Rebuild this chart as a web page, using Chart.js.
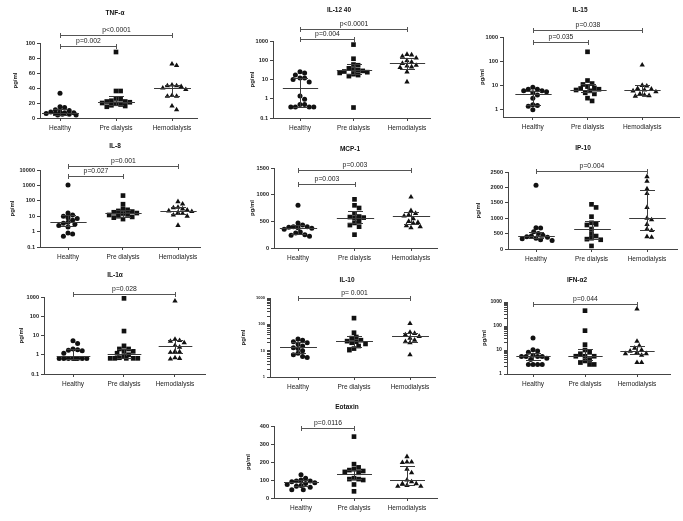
<!DOCTYPE html>
<html><head><meta charset="utf-8">
<script src="https://cdn.jsdelivr.net/npm/chart.js@4/dist/chart.umd.min.js"></script>
<style>
html,body{margin:0;padding:0;background:#fff;width:683px;height:521px;overflow:hidden}
canvas{position:absolute;left:0;top:0}
</style></head><body>
<div id="wrap"></div>
<script>
const groups = ['Healthy', 'Pre dialysis', 'Hemodialysis'];

// TNF-alpha
const tnfHealthy = [33, 15, 14, 11, 10, 8, 8, 7, 7, 6, 6, 5, 5, 4, 4];
const tnfPre = [88, 36, 36, 26, 25, 23, 22, 22, 21, 20, 19, 18, 17, 16, 15];
const tnfHemo = [72, 70, 44, 43, 43, 42, 40, 38, 30, 29, 29, 16, 11];
const tnfMedian = [6.7, 21.5, 40], tnfQ1 = [4.5, 17, 29], tnfQ3 = [12.5, 29, 44.5];
const tnfPairs = [[0, 1, 'p=0.002'], [0, 2, 'p<0.0001']];
const tnfTicks = [0, 20, 40, 60, 80, 100];

// IL-12 40
const il12Healthy = [25, 22, 17, 12, 12, 10, 7.5, 1.4, 0.95, 0.5, 0.5, 0.37, 0.37, 0.37, 0.37];
const il12Pre = [650, 120, 60, 55, 38, 33, 30, 28, 26, 24, 22, 19, 17, 15, 0.35];
const il12Hemo = [200, 190, 160, 130, 95, 80, 68, 55, 50, 45, 42, 25, 7.5];
const il12Median = [3.8, 29.5, 68], il12Q1 = [0.37, 19, 37], il12Q3 = [12, 61, 125];
const il12Pairs = [[0, 1, 'p=0.004'], [0, 2, 'p<0.0001']];
const il12Ticks = [0.1, 1, 10, 100, 1000];

// IL-15
const il15Healthy = [8.5, 7, 7, 6, 6, 5.5, 5, 4, 3, 1.6, 1.5, 1.4, 1.0];
const il15Pre = [245, 16, 12, 11, 9, 8, 7.5, 7, 6.5, 6, 5, 4.5, 3, 2.3];
const il15Hemo = [70, 10, 9.5, 7.5, 7, 6.5, 6, 5.5, 4.5, 4, 3.8, 3.6];
const il15Median = [4.6, 6.8, 6.8], il15Q1 = [1.5, 5.2, 4], il15Q3 = [6, 11.4, 10.6];
const il15Pairs = [[0, 1, 'p=0.035'], [0, 2, 'p=0.038']];
const il15Ticks = [1, 10, 100, 1000];

// IL-8
const il8Healthy = [1070, 16, 12, 10, 8, 7, 5.5, 4, 3.5, 3, 2.5, 2, 0.8, 0.7, 0.5];
const il8Pre = [218, 60, 30, 26, 22, 20, 18, 16, 15, 13, 12, 10, 9, 8, 6.5];
const il8Hemo = [89, 62, 38, 35, 30, 25, 22, 20, 17, 15, 12, 10, 2.5];
const il8Median = [4.3, 15.8, 23], il8Q1 = [2.4, 8.7, 14], il8Q3 = [11.2, 26, 38];
const il8Pairs = [[0, 1, 'p=0.027'], [0, 2, 'p=0.001']];
const il8Ticks = [0.1, 1, 10, 100, 1000, 10000];

// MCP-1
const mcpHealthy = [800, 470, 430, 400, 400, 390, 380, 370, 350, 300, 280, 250, 240, 220];
const mcpPre = [912, 800, 750, 650, 590, 580, 570, 560, 500, 470, 430, 400, 250];
const mcpHemo = [956, 700, 650, 620, 600, 550, 500, 480, 460, 420, 400, 380];
const mcpMedian = [375, 562, 600], mcpQ1 = [270, 470, 456], mcpQ3 = [425, 694, 675];
const mcpPairs = [[0, 1, 'p=0.003'], [0, 2, 'p=0.003']];
const mcpTicks = [0, 500, 1000, 1500];

// IP-10
const ipHealthy = [2070, 690, 680, 560, 500, 450, 420, 400, 380, 350, 330, 300, 280];
const ipPre = [1450, 1350, 1050, 850, 800, 780, 650, 500, 420, 350, 320, 300, 100];
const ipHemo = [2350, 2200, 1950, 1800, 1350, 1000, 950, 800, 650, 600, 400, 380];
const ipMedian = [430, 644, 998], ipQ1 = [354, 333, 622], ipQ3 = [537, 923, 1930];
const ipPairs = [[0, 2, 'p=0.004']];
const ipTicks = [0, 500, 1000, 1500, 2000, 2500];

// IL-1alpha
const il1Healthy = [5.3, 3.8, 2, 1.8, 1.7, 1.6, 1.2, 0.63, 0.63, 0.63, 0.63, 0.63, 0.63, 0.63, 0.63];
const il1Pre = [850, 17, 2.9, 2, 2, 1.6, 1.5, 1.2, 1.0, 0.9, 0.7, 0.65, 0.65, 0.65, 0.65, 0.65];
const il1Hemo = [620, 6.4, 5.5, 5, 4.2, 3, 2.5, 1.5, 1.4, 1.3, 0.7, 0.65, 0.6];
const il1Median = [0.89, 1.04, 2.8], il1Q1 = [0.62, 0.7, 1.27], il1Q3 = [1.9, 2.0, 5.7];
const il1Pairs = [[0, 2, 'p=0.028']];
const il1Ticks = [0.1, 1, 10, 100, 1000];

// IL-10
const il10Healthy = [28, 25, 22, 20, 18, 15, 13, 12, 10, 8, 7, 6, 5.5];
const il10Pre = [172, 48, 33, 30, 25, 23, 22, 20, 18, 15, 12, 10.5];
const il10Hemo = [107, 50, 45, 40, 35, 30, 25, 22, 20, 7];
const il10Median = [14, 23.3, 37], il10Q1 = [8.3, 13.3, 22], il10Q3 = [22, 36, 46];
const il10Pairs = [[0, 2, 'p= 0.001']];
const il10Ticks = [1, 10, 100, 1000];

// IFN-alpha2
const ifnHealthy = [32, 10.3, 9, 8, 6, 5.4, 5.4, 5.4, 5.4, 4.5, 4, 2.5, 2.5, 2.5, 2.5];
const ifnPre = [435, 64, 16.7, 10, 8, 7, 5.5, 5.5, 5.5, 4, 3.5, 3, 2.5, 2.5];
const ifnHemo = [510, 23, 15, 12, 10, 9, 8, 7, 7, 6, 3, 3];
const ifnMedian = [5.4, 5.4, 8.8], ifnQ1 = [4, 4, 6.8], ifnQ3 = [7.5, 11, 14];
const ifnPairs = [[0, 2, 'p=0.044']];
const ifnTicks = [1, 10, 100, 1000];

// Eotaxin
const eotHealthy = [129, 110, 100, 95, 95, 90, 85, 80, 75, 70, 65, 60, 46, 46];
const eotPre = [341, 188, 170, 160, 155, 150, 145, 140, 110, 105, 105, 100, 75, 37];
const eotHemo = [230, 200, 200, 197, 160, 140, 100, 90, 80, 80, 70, 65, 65];
const eotMedian = [87, 133, 101], eotQ1 = [64, 105, 74], eotQ3 = [101, 153, 179];
const eotPairs = [[0, 1, 'p=0.0116']];
const eotTicks = [0, 100, 200, 300, 400];

const FONT = "'Liberation Sans', Arial, Helvetica, sans-serif";
Chart.defaults.font.family = FONT;

// layout (page pixels): y-axis x, x-axis end, top/bottom of value range, first category, category spacing,
// y-title offset, chart title position, bracket heights
const panels = [
  {title: 'TNF-\u03b1', type: 'linear', min: 0, max: 100, ticks: tnfTicks, vals: [tnfHealthy, tnfPre, tnfHemo], median: tnfMedian, q1: tnfQ1, q3: tnfQ3, pairs: tnfPairs,
   L: {ax: 40, x1: 197, top: 43, bot: 118, c0: 60, d: 56, lab: 25, tx: 115, ty: 13, by: [46.5, 35.5], tf: 5.6}},
  {title: 'IL-12 40', type: 'log', min: 0.1, max: 1000, ticks: il12Ticks, vals: [il12Healthy, il12Pre, il12Hemo], median: il12Median, q1: il12Q1, q3: il12Q3, pairs: il12Pairs,
   L: {ax: 273, x1: 430, top: 41, bot: 118, c0: 300, d: 53.5, lab: 21, tx: 339, ty: 10, by: [39.5, 29.5], tf: 5.6}},
  {title: 'IL-15', type: 'log', min: 0.5, max: 1000, ticks: il15Ticks, vals: [il15Healthy, il15Pre, il15Hemo], median: il15Median, q1: il15Q1, q3: il15Q3, pairs: il15Pairs,
   L: {ax: 503, x1: 680, top: 37, bot: 117, c0: 533, d: 55, lab: 21, tx: 580, ty: 10, by: [42.5, 30.5], tf: 5.6}},
  {title: 'IL-8', type: 'log', min: 0.1, max: 10000, ticks: il8Ticks, vals: [il8Healthy, il8Pre, il8Hemo], median: il8Median, q1: il8Q1, q3: il8Q3, pairs: il8Pairs,
   L: {ax: 40, x1: 200, top: 170, bot: 247, c0: 68, d: 55, lab: 28, tx: 115, ty: 146, by: [176.5, 166.5], tf: 5.6}},
  {title: 'MCP-1', type: 'linear', min: 0, max: 1500, ticks: mcpTicks, vals: [mcpHealthy, mcpPre, mcpHemo], median: mcpMedian, q1: mcpQ1, q3: mcpQ3, pairs: mcpPairs,
   L: {ax: 274, x1: 437, top: 168, bot: 248, c0: 298, d: 56.5, lab: 22, tx: 350, ty: 149, by: [184.5, 170.5], tf: 5.6}},
  {title: 'IP-10', type: 'linear', min: 0, max: 2500, ticks: ipTicks, vals: [ipHealthy, ipPre, ipHemo], median: ipMedian, q1: ipQ1, q3: ipQ3, pairs: ipPairs,
   L: {ax: 508, x1: 677, top: 172, bot: 249, c0: 536, d: 55.5, lab: 30, tx: 583, ty: 148, by: [171.5], tf: 5.6}},
  {title: 'IL-1\u03b1', type: 'log', min: 0.1, max: 1000, ticks: il1Ticks, vals: [il1Healthy, il1Pre, il1Hemo], median: il1Median, q1: il1Q1, q3: il1Q3, pairs: il1Pairs,
   L: {ax: 44, x1: 205, top: 297, bot: 374, c0: 73, d: 51, lab: 23, tx: 115, ty: 275, by: [294.5], tf: 5.6}},
  {title: 'IL-10', type: 'log', min: 1, max: 1000, ticks: il10Ticks, minor: true, vals: [il10Healthy, il10Pre, il10Hemo], median: il10Median, q1: il10Q1, q3: il10Q3, pairs: il10Pairs,
   L: {ax: 270, x1: 435, top: 298, bot: 377, c0: 298, d: 56, lab: 27, tx: 347, ty: 280, by: [298.5], tf: 4}},
  {title: 'IFN-\u03b12', type: 'log', min: 1, max: 1000, ticks: ifnTicks, minor: true, vals: [ifnHealthy, ifnPre, ifnHemo], median: ifnMedian, q1: ifnQ1, q3: ifnQ3, pairs: ifnPairs,
   L: {ax: 507, x1: 670, top: 302, bot: 374, c0: 533, d: 52, lab: 23, tx: 577, ty: 280, by: [304.5], tf: 5.2}},
  {title: 'Eotaxin', type: 'linear', min: 0, max: 400, ticks: eotTicks, vals: [eotHealthy, eotPre, eotHemo], median: eotMedian, q1: eotQ1, q3: eotQ3, pairs: eotPairs,
   L: {ax: 274, x1: 437, top: 426, bot: 498, c0: 301, d: 53, lab: 26, tx: 347, ty: 407, by: [428.5], tf: 5.6}}
];

const W = 683, H = 521, XH = 14;
const styles = ['circle', 'rect', 'triangle'];
const radii = [2.5, 3.3, 3.1];

function yPix(p, v) {
  const h = p.L.bot - p.L.top;
  if (p.type === 'log') {
    const a = Math.log10(p.min), b = Math.log10(p.max);
    return p.L.bot - (Math.log10(v) - a) / (b - a) * h;
  }
  return p.L.bot - (v - p.min) / (p.max - p.min) * h;
}

// bounded beeswarm layout: close points spread sideways within the median-line width
function swarm(vals, p, gi) {
  const s = 4.6, step = 2.3, maxOff = p.L.d * 0.3, placed = [], out = [];
  const cands = [0];
  for (let k = 1; k * step <= maxOff; k++) { cands.push(k * step, -k * step); }
  vals.forEach(v => {
    const y = yPix(p, v);
    let best = 0, bestD = -1;
    for (const off of cands) {
      const dmin = placed.reduce((m, q) => Math.min(m, Math.hypot(q[0] - off, q[1] - y)), Infinity);
      if (dmin >= s - 0.01) { best = off; bestD = Infinity; break; }
      if (dmin > bestD + 0.3) { bestD = dmin; best = off; }
    }
    placed.push([best, y]);
    out.push({x: gi + best / p.L.d, y: v});
  });
  return out;
}

function line(ctx, x1, y1, x2, y2) {
  ctx.beginPath(); ctx.moveTo(x1, y1); ctx.lineTo(x2, y2); ctx.stroke();
}

const decor = {
  id: 'decor',
  afterDatasetsDraw(chart, args, o) {
    const p = o.panel, ctx = chart.ctx, xs = chart.scales.x, ys = chart.scales.y;
    ctx.save();
    ctx.strokeStyle = '#3a3a3a'; ctx.lineWidth = 1;
    const mw = p.L.d * 0.33, cw = 7.5;
    for (let g = 0; g < 3; g++) {
      const px = Math.round(xs.getPixelForValue(g)) + 0.5;
      const ym = Math.round(ys.getPixelForValue(p.median[g])) + 0.5;
      const y1 = Math.round(ys.getPixelForValue(p.q1[g])) + 0.5;
      const y3 = Math.round(ys.getPixelForValue(p.q3[g])) + 0.5;
      line(ctx, px - mw, ym, px + mw, ym);
      line(ctx, px, y1, px, y3);
      line(ctx, px - cw, y1, px + cw, y1);
      line(ctx, px - cw, y3, px + cw, y3);
    }
    ctx.strokeStyle = '#555';
    ctx.fillStyle = '#222';
    ctx.font = '6.8px ' + FONT;
    ctx.textAlign = 'center'; ctx.textBaseline = 'bottom';
    p.pairs.forEach((b, i) => {
      const xa = Math.round(xs.getPixelForValue(b[0])) + 0.5, xb = Math.round(xs.getPixelForValue(b[1])) + 0.5;
      const y = p.L.by[i];
      line(ctx, xa, y, xb, y);
      line(ctx, xa, y - 2.5, xa, y + 2.5);
      line(ctx, xb, y - 2.5, xb, y + 2.5);
      ctx.fillText(b[2], (xa + xb) / 2, y - 1.5);
    });
    ctx.font = 'bold 6.5px ' + FONT;
    ctx.textBaseline = 'middle';
    ctx.fillStyle = '#111';
    ctx.fillText(p.title, p.L.tx, p.L.ty);
    ctx.restore();
  }
};

const wrap = document.getElementById('wrap');
panels.forEach(p => {
  const L = p.L;
  const cv = document.createElement('canvas');
  cv.width = W; cv.height = H;
  cv.style.width = W + 'px'; cv.style.height = H + 'px';
  wrap.appendChild(cv);
  const YW = L.lab + 3.6;
  const xmin = -(L.c0 - L.ax) / L.d, xmax = (L.x1 - L.c0) / L.d;
  let yticks = p.ticks.slice();
  if (p.minor) {
    yticks = [];
    for (let e = 0; e < 3; e++) for (let k = 1; k < 10; k++) yticks.push(k * Math.pow(10, e));
    yticks.push(1000);
  }
  new Chart(cv, {
    type: 'scatter',
    data: {
      datasets: [0, 1, 2].map(gi => ({
        data: swarm(p.vals[gi], p, gi),
        pointStyle: styles[gi], pointRadius: radii[gi],
        backgroundColor: '#111', borderColor: '#111', borderWidth: 0,
        clip: false
      }))
    },
    options: {
      responsive: false, animation: false, devicePixelRatio: 1,
      events: [],
      layout: {padding: {left: L.ax - YW, top: L.top, right: W - L.x1, bottom: H - L.bot - XH}},
      plugins: {legend: {display: false}, tooltip: {enabled: false}, decor: {panel: p}},
      scales: {
        x: {
          type: 'linear', min: xmin, max: xmax,
          afterBuildTicks: s => { s.ticks = [0, 1, 2].map(v => ({value: v})); },
          afterFit: s => { s.height = XH; },
          grid: {drawOnChartArea: false, tickLength: 3, color: '#444'},
          border: {color: '#444', width: 1},
          ticks: {callback: v => groups[Math.round(v)], font: {size: 6.5}, color: '#222', padding: 3, maxRotation: 0, autoSkip: false}
        },
        y: {
          type: p.type === 'log' ? 'logarithmic' : 'linear', min: p.min, max: p.max,
          afterBuildTicks: s => { s.ticks = yticks.map(v => ({value: v})); },
          afterFit: s => { s.width = YW; },
          grid: {drawOnChartArea: false, tickLength: 3, color: '#444'},
          border: {color: '#444', width: 1},
          ticks: {callback: v => (p.ticks.includes(v) ? String(v) : ''), font: {size: L.tf, weight: 'bold'}, color: '#222', padding: 2, autoSkip: false},
          title: {display: true, text: 'pg/ml', font: {size: 6, weight: 'bold'}, color: '#222', padding: 0}
        }
      }
    },
    plugins: [decor]
  });
});
</script>
</body></html>
